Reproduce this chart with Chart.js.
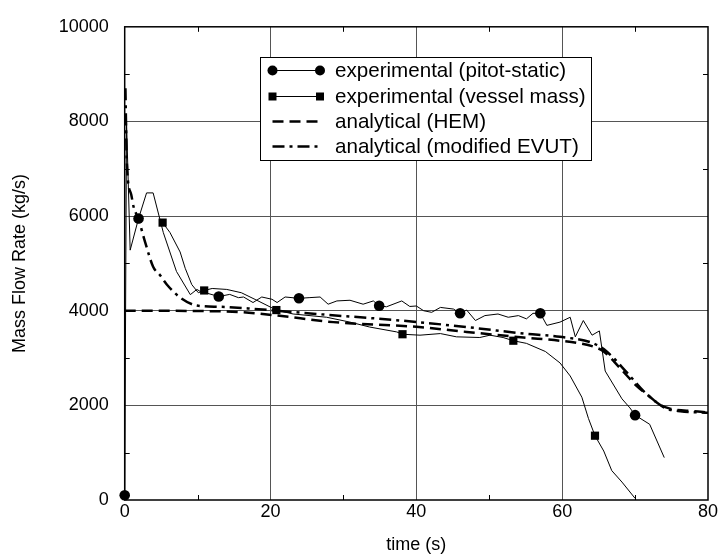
<!DOCTYPE html>
<html>
<head>
<meta charset="utf-8">
<script src="https://cdn.jsdelivr.net/npm/chart.js@4.4.1/dist/chart.umd.min.js"></script>
<style>
  html, body { margin: 0; padding: 0; background: #fff; }
  #wrap { width: 722px; height: 558px; }
</style>
</head>
<body>
<div id="wrap"><canvas id="grafico" width="722" height="558"></canvas></div>
<script>
// experimental (pitot-static): line + markers
const pitotT = [0, 0.25, 0.75, 1.9, 3.0, 3.9, 5.3, 7.1, 9.0, 9.9, 10.3, 12.9, 14.4, 15.6, 16.3, 17.6, 18.8, 20.2, 20.9, 22.0, 23.9, 25.4, 26.8, 27.9, 29.1, 30.9, 32.7, 34.1, 34.9, 35.9, 38.0, 39.1, 40.0, 41.0, 42.1, 43.3, 45.1, 46.0, 46.9, 48.1, 49.4, 51.2, 52.6, 54.0, 55.1, 56.0, 57.0, 57.9, 59.7, 61.1, 61.8, 62.9, 64.1, 65.1, 65.9, 68.2, 69.3, 70.0, 72.0, 74.0];
const pitotV = [100, 8000, 5280, 5950, 6490, 6490, 5650, 4830, 4340, 4450, 4414, 4300, 4345, 4276, 4290, 4173, 4290, 4242, 4173, 4290, 4262, 4277, 4290, 4138, 4207, 4221, 4138, 4207, 4104, 4083, 4207, 4090, 4100, 4000, 3966, 4070, 4035, 3945, 4014, 3793, 3897, 3931, 3862, 3897, 3828, 3945, 3945, 3690, 3759, 3862, 3448, 3793, 3483, 3573, 2725, 2138, 1945, 1793, 1600, 896];
const pitotMarkT = [0, 1.9, 12.9, 23.9, 34.9, 46.0, 57.0, 70.0];
const pitotMarkV = [100, 5950, 4300, 4262, 4104, 3945, 3945, 1793];

// experimental (vessel mass)
const vesselT = [5.2, 6.2, 7.6, 8.3, 9.2, 10.1, 10.9, 12.0, 14.0, 16.0, 18.0, 20.8, 23.1, 27.7, 30.9, 33.6, 37.3, 38.1, 40.5, 43.3, 45.5, 48.7, 50.1, 51.9, 53.3, 55.1, 57.7, 59.7, 61.1, 62.7, 63.6, 64.5, 65.7, 66.8, 68.2, 70.0];
const vesselV = [5862, 5655, 5241, 4897, 4552, 4380, 4428, 4470, 4450, 4380, 4230, 4014, 3931, 3862, 3759, 3655, 3552, 3503, 3483, 3517, 3448, 3434, 3483, 3434, 3366, 3310, 3138, 2897, 2621, 2172, 1724, 1359, 1035, 621, 379, 35];
const vesselMarkT = [5.2, 10.9, 20.8, 38.1, 53.3, 64.5];
const vesselMarkV = [5862, 4428, 4014, 3503, 3366, 1359];

// analytical (HEM)
const hemT = [0, 12, 16.3, 20.8, 28.6, 40, 46.9, 54.7, 59.7, 62.5, 64.3, 65.7, 67.9, 70.2, 72.1, 73.4, 74.8, 78.0, 80];
const hemV = [4000, 3990, 3966, 3900, 3759, 3660, 3552, 3434, 3366, 3310, 3241, 3138, 2793, 2414, 2172, 2014, 1931, 1876, 1850];

// analytical (modified EVUT)
const evutT = [0.1, 0.3, 0.9, 1.2, 1.9, 2.8, 3.9, 4.8, 5.8, 7.6, 9.9, 13.1, 17.6, 26.3, 37.8, 46.9, 54.7, 59.7, 64.3, 66.1, 68.9, 71.1, 73.4, 74.3, 76.2, 80];
const evutV = [8700, 7100, 6450, 6207, 5930, 5450, 4930, 4759, 4550, 4280, 4110, 4083, 4040, 3931, 3793, 3655, 3517, 3448, 3310, 3138, 2690, 2310, 2014, 1931, 1876, 1845];

const legendLabels = ["experimental (pitot-static)", "experimental (vessel mass)", "analytical (HEM)", "analytical (modified EVUT)"];

const xTicks = [0, 20, 40, 60, 80];
const xMinor = [10, 30, 50, 70];
const yMinor = [1000, 3000, 5000, 7000, 9000];

const FONTE = '"Liberation Sans", Arial, Helvetica, sans-serif';
const pares = (t, v) => t.map((x, i) => ({ x: x, y: v[i] }));

Chart.defaults.font.family = FONTE;
Chart.defaults.color = "#000";

// moldura, tracinhos menores e legenda
const extras = {
  id: "extras",
  afterDraw(chart) {
    const { ctx, chartArea: a, scales } = chart;
    const xs = scales.x, ys = scales.y;
    ctx.save();
    ctx.strokeStyle = "#000";
    ctx.lineWidth = 1;
    ctx.beginPath();
    xMinor.forEach(t => {
      const px = Math.round(xs.getPixelForValue(t)) + 0.5;
      ctx.moveTo(px, a.bottom); ctx.lineTo(px, a.bottom - 5);
      ctx.moveTo(px, a.top); ctx.lineTo(px, a.top + 5);
    });
    yMinor.forEach(v => {
      const py = Math.round(ys.getPixelForValue(v)) + 0.5;
      ctx.moveTo(a.left, py); ctx.lineTo(a.left + 5, py);
      ctx.moveTo(a.right, py); ctx.lineTo(a.right - 5, py);
    });
    ctx.stroke();
    ctx.lineWidth = 1.5;
    ctx.strokeRect(a.left, a.top, a.right - a.left, a.bottom - a.top);

    // legenda
    const bx = 260, by = 57, bw = 331, bh = 103;
    ctx.fillStyle = "#fff";
    ctx.fillRect(bx, by, bw, bh);
    ctx.lineWidth = 1;
    ctx.strokeRect(bx + 0.5, by + 0.5, bw, bh);
    const linhas = [70.5, 96.5, 121.5, 146.5];
    const x1 = 272.5, x2 = 320;
    chart.data.datasets.filter(d => d.legendIdx !== undefined).forEach(d => {
      const y = linhas[d.legendIdx];
      ctx.strokeStyle = "#000";
      ctx.lineWidth = d.borderWidth;
      ctx.setLineDash(d.borderDash || []);
      ctx.beginPath();
      ctx.moveTo(x1, y); ctx.lineTo(x2, y);
      ctx.stroke();
      ctx.setLineDash([]);
      if (d.marker) {
        ctx.fillStyle = "#000";
        [x1, x2].forEach(px => {
          ctx.beginPath();
          if (d.marker === "circle") ctx.arc(px, y, 5, 0, Math.PI * 2);
          else ctx.rect(px - 4, y - 4, 8, 8);
          ctx.fill();
        });
      }
      ctx.fillStyle = "#000";
      ctx.font = "20.6px " + FONTE;
      ctx.textBaseline = "middle";
      ctx.textAlign = "left";
      ctx.fillText(legendLabels[d.legendIdx], 335, y + 1);
    });
    ctx.restore();
  }
};

new Chart(document.getElementById("grafico"), {
  type: "scatter",
  data: {
    datasets: [
      { data: pares(hemT, hemV), showLine: true, borderColor: "#000", borderWidth: 2.5, borderDash: [11, 6], pointRadius: 0, cubicInterpolationMode: "monotone", legendIdx: 2 },
      { data: pares(evutT, evutV), showLine: true, borderColor: "#000", borderWidth: 2.5, borderDash: [12, 5, 3, 5], pointRadius: 0, cubicInterpolationMode: "monotone", legendIdx: 3 },
      { data: pares(vesselT, vesselV), showLine: true, borderColor: "#000", borderWidth: 1, pointRadius: 0, legendIdx: 1, marker: "rect" },
      { data: pares(pitotT, pitotV), showLine: true, borderColor: "#000", borderWidth: 1, pointRadius: 0, legendIdx: 0, marker: "circle" },
      { data: pares(vesselMarkT, vesselMarkV), showLine: false, pointStyle: "rect", pointRadius: 5.8, backgroundColor: "#000", borderColor: "#000", borderWidth: 0, clip: false },
      { data: pares(pitotMarkT, pitotMarkV), showLine: false, pointStyle: "circle", pointRadius: 5.3, backgroundColor: "#000", borderColor: "#000", borderWidth: 0, clip: false }
    ]
  },
  options: {
    responsive: false,
    animation: false,
    layout: { padding: { left: 0, top: 17, right: 14, bottom: 0 } },
    plugins: { legend: { display: false }, tooltip: { enabled: false } },
    scales: {
      x: {
        type: "linear", min: 0, max: 80,
        afterBuildTicks: s => { s.ticks = xTicks.map(v => ({ value: v })); },
        afterFit: s => { s.height = 58; },
        grid: { color: ctx => (ctx.tick && (ctx.tick.value === 0 || ctx.tick.value === 80)) ? "rgba(0,0,0,0)" : "#555", lineWidth: 1, drawTicks: false },
        border: { display: false },
        ticks: { padding: 1, font: { size: 18 }, maxRotation: 0, callback: v => String(v) },
        title: { display: true, text: "time (s)", font: { size: 18 }, padding: { top: 0, bottom: 2 } }
      },
      y: {
        min: 0, max: 10000,
        ticks: { stepSize: 2000, padding: 16, font: { size: 18 }, callback: v => String(v) },
        afterFit: s => { s.width = 124.7; },
        grid: { color: ctx => (ctx.tick && (ctx.tick.value === 0 || ctx.tick.value === 10000)) ? "rgba(0,0,0,0)" : "#555", lineWidth: 1, drawTicks: false },
        border: { display: false },
        title: { display: true, text: "Mass Flow Rate (kg/s)", font: { size: 18 }, padding: { top: 9, bottom: 0 } }
      }
    }
  },
  plugins: [extras]
});
</script>
</body>
</html>
